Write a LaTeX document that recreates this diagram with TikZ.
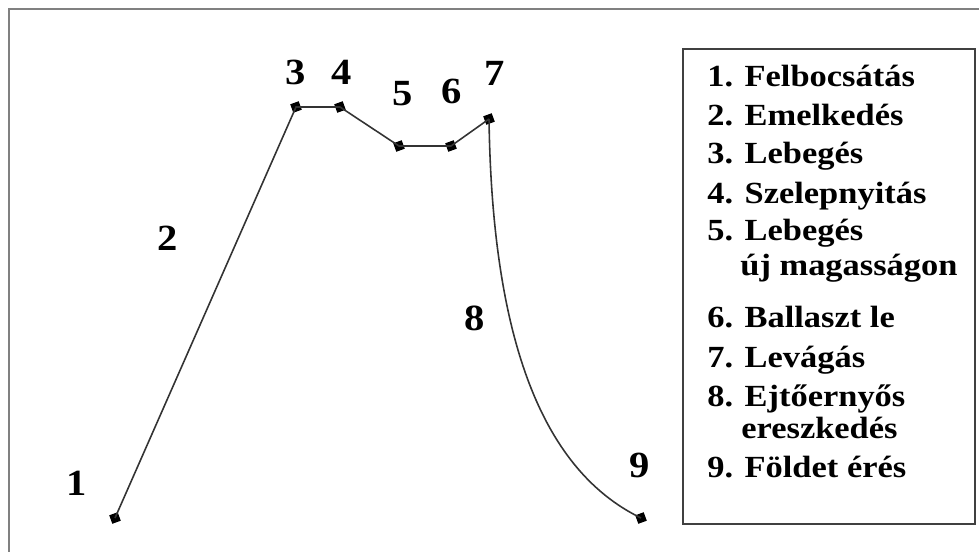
\documentclass[tikz,border=0pt]{standalone}
\usepackage{fontspec}
\setmainfont{Liberation Serif}
\newfontfamily\flightfont{Liberation Serif}[FakeStretch=1.12]
\newfontfamily\phasefont{Liberation Serif}[FakeStretch=1.1]
\usetikzlibrary{positioning}
\tikzstyle{knot} = [rectangle, rotate=20, fill=black, inner sep=0pt, minimum size=1.8mm]
\tikzstyle{track} = [line width=0.9pt, black!80]
\tikzstyle{phase} = [font=\phasefont\bfseries\fontsize{21}{24}\selectfont, inner sep=0pt]
\tikzstyle{entry} = [font=\flightfont\bfseries\fontsize{17.5}{20}\selectfont, inner sep=0pt, anchor=base west]

\begin{document}
\begin{tikzpicture}[x=0.02cm, y=-0.02cm]
    \useasboundingbox (0,0) rectangle (979,551);
    % outer frame, only its top and left edges are in view
    \draw[gray, line width=1.2pt] (9,570) -- (9,9) -- (1000,9);

    % points of the flight
    \foreach \id/\px/\py in {1/115/518, 3/296/107, 4/340/107, 5/399/146,
                             6/451/146, 7/489/119, 9/641/518}
      \node[knot] (p\id) at (\px,\py) {};

    % flight path
    \draw[track] (p1.center) -- (p3.center) -- (p4.center) -- (p5.center)
                 -- (p6.center) -- (p7.center);
    % parachute descent
    \draw[track] (p7.center) .. controls (492,330) and (538,468) .. (p9.center);

    % phase numbers
    \foreach \id/\px/\py in {1/77/483, 2/168/238, 3/296/72, 4/342/72, 5/403/94,
                             6/452/91, 7/495/73, 8/475/318, 9/640/465}
      \node[phase] (n\id) at (\px,\py) {\id};

    % legend
    \node[draw=black!75, line width=1.1pt, minimum width=5.84cm,
          minimum height=9.5cm, inner sep=0pt] (legend) at (829,286.5) {};
    \foreach \id/\txt/\py in {1/Felbocsátás/86, 2/Emelkedés/125, 3/Lebegés/163,
                              4/Szelepnyitás/203, 5/Lebegés/240, 6/Ballaszt le/327,
                              7/Levágás/367, 8/Ejtőernyős/406, 9/Földet érés/477}
      \node[entry] (k\id) at (707,\py) {\id. \txt};
    \node[entry] (k5b) at (740,275) {új magasságon};
    \node[entry] (k8b) at (741,438) {ereszkedés};
\end{tikzpicture}
\end{document}
